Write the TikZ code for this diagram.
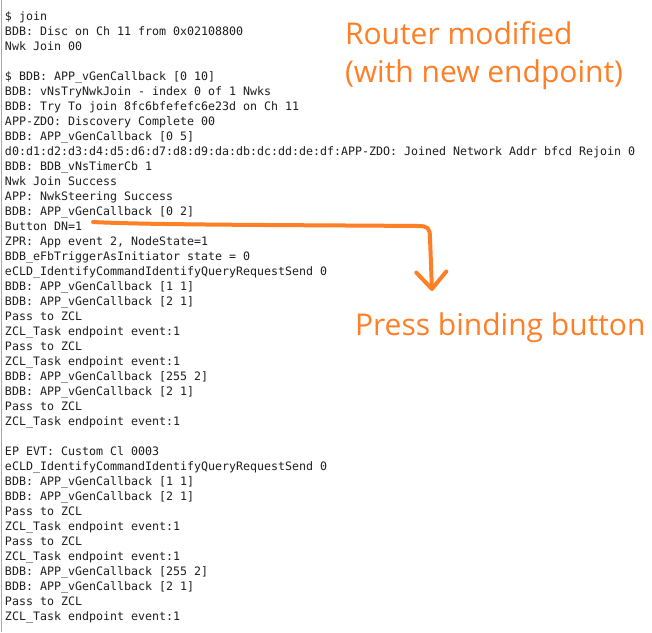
\documentclass[tikz,border=0pt]{standalone}
\usepackage{fontspec}
\setmonofont{DejaVu Sans Mono}
\newfontfamily\annfont{Open Sans}
\usetikzlibrary{arrows.meta}
\definecolor{annot}{HTML}{FF7F27}
\definecolor{logtext}{HTML}{1E1E1E}
\definecolor{framegray}{HTML}{A8A8A8}
\tikzset{
  logline/.style={anchor=base west, inner sep=0pt, outer sep=0pt,
    font=\ttfamily\fontsize{11.63}{15}\selectfont, text=logtext},
  annotext/.style={anchor=base west, inner sep=0pt, outer sep=0pt,
    font=\annfont\fontsize{30}{38}\selectfont, text=annot, align=left},
  penstroke/.style={draw=annot, line width=4pt, line cap=round, line join=round}
}
\begin{document}
\begin{tikzpicture}[x=1pt,y=-1pt]
\fill[white] (0,0) rectangle (652,632);
\useasboundingbox (0,0) rectangle (652,632);
\draw[framegray, line width=1pt] (1.5,0) -- (1.5,632);
\foreach \k/\t in {
 0/{\$ join},
 1/{BDB: Disc on Ch 11 from 0x02108800},
 2/{Nwk Join 00},
 4/{\$ BDB: APP\_vGenCallback [0 10]},
 5/{BDB: vNsTryNwkJoin - index 0 of 1 Nwks},
 6/{BDB: Try To join 8fc6bfefefc6e23d on Ch 11},
 7/{APP-ZDO: Discovery Complete 00},
 8/{BDB: APP\_vGenCallback [0 5]},
 9/{d0:d1:d2:d3:d4:d5:d6:d7:d8:d9:da:db:dc:dd:de:df:APP-ZDO: Joined Network Addr bfcd Rejoin 0},
 10/{BDB: BDB\_vNsTimerCb 1},
 11/{Nwk Join Success},
 12/{APP: NwkSteering Success},
 13/{BDB: APP\_vGenCallback [0 2]},
 14/{Button DN=1},
 15/{ZPR: App event 2, NodeState=1},
 16/{BDB\_eFbTriggerAsInitiator state = 0},
 17/{eCLD\_IdentifyCommandIdentifyQueryRequestSend 0},
 18/{BDB: APP\_vGenCallback [1 1]},
 19/{BDB: APP\_vGenCallback [2 1]},
 20/{Pass to ZCL},
 21/{ZCL\_Task endpoint event:1},
 22/{Pass to ZCL},
 23/{ZCL\_Task endpoint event:1},
 24/{BDB: APP\_vGenCallback [255 2]},
 25/{BDB: APP\_vGenCallback [2 1]},
 26/{Pass to ZCL},
 27/{ZCL\_Task endpoint event:1},
 29/{EP EVT: Custom Cl 0003},
 30/{eCLD\_IdentifyCommandIdentifyQueryRequestSend 0},
 31/{BDB: APP\_vGenCallback [1 1]},
 32/{BDB: APP\_vGenCallback [2 1]},
 33/{Pass to ZCL},
 34/{ZCL\_Task endpoint event:1},
 35/{Pass to ZCL},
 36/{ZCL\_Task endpoint event:1},
 37/{BDB: APP\_vGenCallback [255 2]},
 38/{BDB: APP\_vGenCallback [2 1]},
 39/{Pass to ZCL},
 40/{ZCL\_Task endpoint event:1}}
 {\node[logline] (l\k) at (5,{20+15*\k}) {\t};}

\node[annotext] (router) at (345,82) {Router modified\\(with new endpoint)};
\node[annotext] (press) at (355,335) {Press binding button};

\coordinate (as) at (93,222);
\coordinate (tip) at (432,291);
\draw[penstroke, -{Straight Barb[length=17pt,width=30pt,round]}]
  (as) .. controls (150,225) and (300,225) .. (418,226)
  .. controls (428,226) and (430,228) .. (430,238)
  -- (tip);
\end{tikzpicture}
\end{document}
